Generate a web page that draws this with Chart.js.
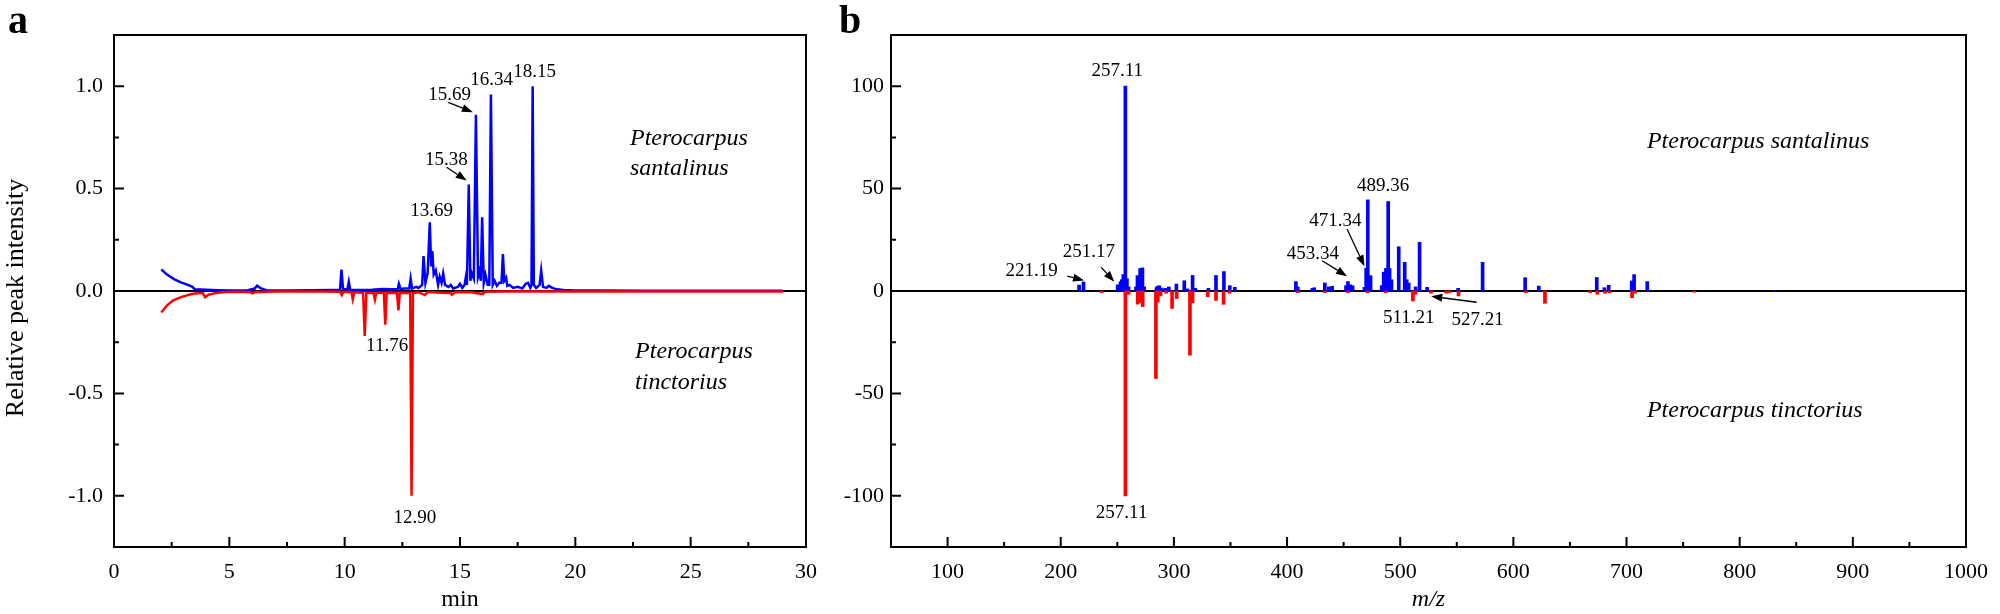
<!DOCTYPE html>
<html>
<head>
<meta charset="utf-8">
<script src="https://cdn.jsdelivr.net/npm/chart.js@4.4.1/dist/chart.umd.min.js"></script>
<style>
  html, body { margin: 0; padding: 0; background: #fff; }
  #wrap { position: relative; width: 2000px; height: 614px; }
  #chartA { position: absolute; left: 0; top: 0; }
  #chartB { position: absolute; left: 830px; top: 0; }
</style>
</head>
<body>
<div id="wrap">
  <canvas id="chartA" width="830" height="614"></canvas>
  <canvas id="chartB" width="1170" height="614"></canvas>
</div>
<script>
// ---- Panel a: chromatograms (retention time, min / relative peak intensity) ----
const santTime = [2.05, 2.3, 2.6, 2.9, 3.2, 3.4, 3.5, 4.0, 4.5, 5.0, 5.8, 6.1, 6.2, 6.35, 6.6, 7.5, 8.5, 9.5,
  9.8, 9.86, 9.93, 10.12, 10.18, 10.24, 10.6, 11.2, 11.6, 12.0, 12.3, 12.35, 12.42, 12.6, 12.8, 12.86, 12.92,
  13.1, 13.2, 13.36, 13.42, 13.5, 13.6, 13.69, 13.75, 13.8, 13.86, 13.95, 14.05, 14.12, 14.2, 14.27, 14.35,
  14.5, 14.6, 14.7, 14.9, 15.0, 15.1, 15.2, 15.25, 15.3, 15.38, 15.45, 15.5, 15.6, 15.69, 15.78, 15.85, 15.9,
  15.96, 16.03, 16.1, 16.2, 16.27, 16.34, 16.42, 16.5, 16.6, 16.7, 16.8, 16.86, 16.92, 17.0, 17.05, 17.15,
  17.3, 17.5, 17.7, 17.85, 17.95, 18.05, 18.1, 18.15, 18.2, 18.3, 18.45, 18.52, 18.6, 18.75, 18.85, 19.0,
  19.2, 19.5, 20.0, 21, 23, 25, 27, 29];
const santInt = [0.105, 0.08, 0.058, 0.042, 0.03, 0.02, 0.008, 0.006, 0.004, 0.003, 0.004, 0.012, 0.026, 0.014, 0.004, 0.003, 0.004, 0.005,
  0.006, 0.105, 0.01, 0.008, 0.045, 0.006, 0.005, 0.006, 0.01, 0.008, 0.01, 0.035, 0.01, 0.012, 0.012, 0.06, 0.012,
  0.02, 0.015, 0.03, 0.17, 0.04, 0.09, 0.335, 0.12, 0.195, 0.08, 0.1, 0.03, 0.07, 0.04, 0.085, 0.03,
  0.02, 0.03, 0.012, 0.02, 0.035, 0.015, 0.03, 0.065, 0.03, 0.52, 0.05, 0.09, 0.06, 0.86, 0.07, 0.1, 0.05,
  0.36, 0.04, 0.08, 0.03, 0.03, 0.96, 0.03, 0.05, 0.025, 0.04, 0.04, 0.18, 0.05, 0.065, 0.025, 0.03,
  0.015, 0.02, 0.012, 0.035, 0.04, 0.015, 0.03, 1.0, 0.03, 0.015, 0.03, 0.1, 0.02, 0.015, 0.025, 0.015,
  0.008, 0.005, 0.003, 0.002, 0.001, 0.001, 0.001, 0.001];
const tincTime = [2.05, 2.3, 2.55, 2.9, 3.37, 3.7, 3.85, 3.95, 4.1, 4.5, 4.9, 5.5, 5.9, 6.0, 6.1, 7, 8, 9,
  9.8, 9.88, 9.95, 10.3, 10.35, 10.42, 10.8, 10.87, 10.94, 11.25, 11.31, 11.37, 11.7, 11.76, 11.82,
  12.27, 12.33, 12.39, 12.84, 12.9, 12.96, 13.2, 13.48, 13.6, 14.2, 14.6, 14.65, 14.8, 15.5, 15.98, 16.1,
  17, 18, 20, 29];
const tincInt = [-0.105, -0.07, -0.047, -0.03, -0.015, -0.01, -0.01, -0.03, -0.018, -0.008, -0.005, -0.004, -0.006, -0.012, -0.006, -0.003, -0.003, -0.003,
  -0.004, -0.02, -0.004, -0.006, -0.04, -0.006, -0.008, -0.22, -0.008, -0.01, -0.042, -0.008, -0.008, -0.165, -0.008,
  -0.01, -0.095, -0.008, -0.01, -1.0, -0.01, -0.006, -0.02, -0.005, -0.008, -0.01, -0.018, -0.005, -0.006, -0.015, -0.004,
  -0.003, -0.003, -0.002, -0.002];
const aXTicks = [0, 5, 10, 15, 20, 25, 30];
const aYTicks = [-1.0, -0.5, 0.0, 0.5, 1.0];

// ---- Panel b: mass spectra (m/z / relative abundance) ----
const santMz = [216.2, 220.1, 250.3, 252.8, 254.0, 255.3, 257.11, 258.5, 260.0, 266.5, 267.8, 269.0, 270.2, 271.2,
  272.2, 273.7, 284.6, 285.3, 287.0, 288.5, 290.0, 292.6, 295.5, 302.2, 309.2, 312.0, 316.5, 318.9, 330.5,
  337.2, 344.2, 349.4, 353.8, 407.8, 409.5, 422.4, 424.1, 433.4, 436.9, 439.8, 452.1, 453.8, 455.9, 457.9,
  468.4, 469.9, 471.34, 473.8, 483.6, 485.4, 487.4, 489.36, 490.6, 492.3, 498.7, 504.0, 505.7, 507.5, 513.6,
  517.1, 523.8, 551.2, 572.8, 610.4, 622.4, 673.7, 680.4, 684.2, 704.6, 706.7, 718.3, 831.0];
const santAbund = [2.9, 4.4, 3.0, 4.5, 5.5, 8, 100, 6, 2, 2, 7.5, 6, 11, 8,
  11.3, 2, 1.6, 2.2, 2.6, 1.5, 1, 1.3, 2, 3.4, 5, 1, 7.6, 1.3, 1.3,
  7.6, 9.5, 2.6, 1.8, 4.6, 2, 1.3, 1.6, 3.9, 2, 2.3, 2.6, 4.6, 3, 2.6,
  1.8, 11.1, 44.5, 7.5, 2.6, 9.2, 11, 43.7, 11, 5.5, 21.6, 14, 5.5, 3.9, 2,
  23.8, 1.8, 1.3, 14, 6.5, 2.4, 6.6, 1.6, 2.8, 4.9, 8, 4.6, 0.3];
const tincMz = [236.1, 257.11, 260.0, 268.0, 270.4, 272.4, 284.1, 285.8, 288.2, 293.2, 298.4, 302.5, 314.2, 316.5,
  329.9, 337.2, 343.9, 349.2, 409.5, 433.5, 453.8, 471.2, 487.3, 511.21, 513.4, 527.21, 540.8, 543.5, 551.5,
  611.1, 627.9, 668.0, 674.3, 681.0, 685.0, 704.9, 707.6, 760.0];
const tincAbund = [-0.8, -100, -1.6, -6.4, -5.6, -7.6, -42.7, -5.4, -2.4, -1.1, -8.5, -3.7, -31.3, -5.7,
  -2.8, -4.6, -6.5, -1.1, -0.8, -0.8, -0.8, -0.8, -0.8, -4.9, -1.6, -1.1, -1.1, -0.8, -2.4,
  -0.8, -6, -0.8, -1.6, -1.1, -0.8, -3.3, -1.1, -0.6];
const bXTicks = [100, 200, 300, 400, 500, 600, 700, 800, 900, 1000];
const bYTicks = [-100, -50, 0, 50, 100];

const SERIF = "'Liberation Serif', 'Times New Roman', serif";
const BLUE = '#0000ff';
const RED = '#ff0000';

// peak labels, arrows and species names (positions in data units)
const aLabels = [
  { text: '18.15', x: 18.23, y: 1.071 },
  { text: '16.34', x: 16.37, y: 1.032 },
  { text: '15.69', x: 14.55, y: 0.959 },
  { text: '15.38', x: 14.41, y: 0.640 },
  { text: '13.69', x: 13.77, y: 0.392 },
  { text: '11.76', x: 11.84, y: -0.267 },
  { text: '12.90', x: 13.04, y: -1.110 }
];
const aArrows = [
  { from: [14.49, 0.921], to: [15.56, 0.873] },
  { from: [14.42, 0.604], to: [15.29, 0.539] }
];
const aSpecies = [
  { text: 'Pterocarpus', x: 22.37, y: 0.743 },
  { text: 'santalinus', x: 22.37, y: 0.596 },
  { text: 'Pterocarpus', x: 22.59, y: -0.298 },
  { text: 'tinctorius', x: 22.59, y: -0.449 }
];
const bLabels = [
  { text: '257.11', x: 249.9, y: 107.6 },
  { text: '489.36', x: 485.0, y: 51.4 },
  { text: '471.34', x: 442.8, y: 34.3 },
  { text: '453.34', x: 422.9, y: 18.1 },
  { text: '251.17', x: 224.8, y: 18.9 },
  { text: '221.19', x: 174.2, y: 9.8 },
  { text: '511.21', x: 507.6, y: -13.3 },
  { text: '527.21', x: 568.5, y: -14.4 },
  { text: '257.11', x: 253.8, y: -108.5 }
];
const bArrows = [
  { from: [453.0, 30.3], to: [468.4, 12.1] },
  { from: [431.1, 14.8], to: [453.0, 7.2] },
  { from: [235.7, 11.6], to: [247.4, 4.5] },
  { from: [205.7, 7.3], to: [220.6, 5.1] },
  { from: [567.6, -5.5], to: [527.4, -2.6] }
];
const bSpecies = [
  { text: 'Pterocarpus santalinus', x: 718, y: 72.8 },
  { text: 'Pterocarpus tinctorius', x: 718, y: -58.6 }
];

function drawArrow(ctx, x1, y1, x2, y2) {
  const ang = Math.atan2(y2 - y1, x2 - x1);
  const L = 11, W = 4;
  const c = Math.cos(ang), s = Math.sin(ang);
  ctx.beginPath();
  ctx.moveTo(x1, y1);
  ctx.lineTo(x2 - L * c, y2 - L * s);
  ctx.lineWidth = 1.3;
  ctx.stroke();
  ctx.beginPath();
  ctx.moveTo(x2, y2);
  ctx.lineTo(x2 - L * c + W * s, y2 - L * s - W * c);
  ctx.lineTo(x2 - L * c - W * s, y2 - L * s + W * c);
  ctx.closePath();
  ctx.fill();
}

const decor = {
  id: 'decor',
  beforeDatasetsDraw(chart) {
    const { ctx, chartArea: a, scales: { y } } = chart;
    const y0 = y.getPixelForValue(0);
    ctx.save();
    ctx.strokeStyle = '#000';
    ctx.lineWidth = 2;
    ctx.beginPath();
    ctx.moveTo(a.left, y0);
    ctx.lineTo(a.right, y0);
    ctx.stroke();
    ctx.restore();
  },
  afterDraw(chart, args, opts) {
    const { ctx, chartArea: a, scales: { x, y } } = chart;
    ctx.save();
    ctx.strokeStyle = '#000';
    ctx.fillStyle = '#000';
    ctx.lineWidth = 2;
    ctx.strokeRect(a.left, a.top, a.right - a.left, a.bottom - a.top);

    // inward major + minor ticks on bottom and left
    const xs = x.ticks.map(t => t.value);
    const ys = y.ticks.map(t => t.value);
    ctx.beginPath();
    xs.forEach((v, i) => {
      const px = x.getPixelForValue(v);
      ctx.moveTo(px, a.bottom); ctx.lineTo(px, a.bottom - 10);
      if (i < xs.length - 1) {
        const m = x.getPixelForValue((v + xs[i + 1]) / 2);
        ctx.moveTo(m, a.bottom); ctx.lineTo(m, a.bottom - 5);
      }
    });
    ys.forEach((v, i) => {
      const py = y.getPixelForValue(v);
      ctx.moveTo(a.left, py); ctx.lineTo(a.left + 10, py);
      if (i < ys.length - 1) {
        const m = y.getPixelForValue((v + ys[i + 1]) / 2);
        ctx.moveTo(a.left, m); ctx.lineTo(a.left + 5, m);
      }
    });
    ctx.stroke();

    // peak labels
    ctx.font = `19px ${SERIF}`;
    ctx.textAlign = 'center';
    ctx.textBaseline = 'middle';
    opts.labels.forEach(l => ctx.fillText(l.text, x.getPixelForValue(l.x), y.getPixelForValue(l.y)));
    opts.arrows.forEach(r => drawArrow(ctx,
      x.getPixelForValue(r.from[0]), y.getPixelForValue(r.from[1]),
      x.getPixelForValue(r.to[0]), y.getPixelForValue(r.to[1])));

    // species names
    ctx.font = `italic 24px ${SERIF}`;
    ctx.textAlign = 'left';
    opts.species.forEach(l => ctx.fillText(l.text, x.getPixelForValue(l.x), y.getPixelForValue(l.y)));

    // rotated y title
    if (opts.yTitle) {
      ctx.save();
      ctx.translate(16, 298);
      ctx.rotate(-Math.PI / 2);
      ctx.font = `26px ${SERIF}`;
      ctx.textAlign = 'center';
      ctx.textBaseline = 'middle';
      ctx.fillText(opts.yTitle, 0, 0);
      ctx.restore();
    }

    // panel letter
    ctx.font = `bold 40px ${SERIF}`;
    ctx.textAlign = 'left';
    ctx.textBaseline = 'alphabetic';
    ctx.fillText(opts.letter, opts.letterX, 33);
    ctx.restore();
  }
};

function axisX(min, max, ticks, title, italic) {
  return {
    type: 'linear', min: min, max: max, offset: false,
    afterBuildTicks: s => { s.ticks = ticks.map(v => ({ value: v })); },
    afterFit: s => { s.height = 67; },
    grid: { display: false, drawTicks: false },
    border: { display: false },
    ticks: { font: { family: SERIF, size: 22 }, color: '#000', padding: 12, maxRotation: 0, autoSkip: false,
             callback: v => String(v) },
    title: { display: true, text: title, color: '#000', padding: 0,
             font: { family: SERIF, size: 24, style: italic ? 'italic' : 'normal' } }
  };
}

function axisY(min, max, ticks, width, pad, fmt) {
  return {
    type: 'linear', min: min, max: max,
    afterBuildTicks: s => { s.ticks = ticks.map(v => ({ value: v })); },
    afterFit: s => { s.width = width; },
    grid: { display: false, drawTicks: false },
    border: { display: false },
    ticks: { font: { family: SERIF, size: 22 }, color: '#000', padding: pad, autoSkip: false, callback: fmt },
    title: { display: false }
  };
}

// Panel a
new Chart(document.getElementById('chartA'), {
  type: 'line',
  data: {
    datasets: [
      {
        label: 'Pterocarpus tinctorius',
        data: tincTime.map((t, i) => ({ x: t, y: tincInt[i] })),
        borderColor: RED, borderWidth: 2.5, pointRadius: 0, tension: 0, order: 0
      },
      {
        label: 'Pterocarpus santalinus',
        data: santTime.map((t, i) => ({ x: t, y: santInt[i] })),
        borderColor: BLUE, borderWidth: 2.5, pointRadius: 0, tension: 0, order: 1
      }
    ]
  },
  options: {
    responsive: false,
    animation: false,
    devicePixelRatio: 1,
    layout: { padding: { top: 35, right: 24, left: 0, bottom: 0 } },
    plugins: {
      legend: { display: false },
      tooltip: { enabled: false },
      decor: { labels: aLabels, arrows: aArrows, species: aSpecies, letter: 'a', letterX: 8,
               yTitle: 'Relative peak intensity' }
    },
    scales: {
      x: axisX(0, 30, aXTicks, 'min', false),
      y: axisY(-1.25, 1.25, aYTicks, 114, 11, v => v.toFixed(1))
    }
  },
  plugins: [decor]
});

// Panel b
new Chart(document.getElementById('chartB'), {
  type: 'bar',
  data: {
    datasets: [
      {
        label: 'Pterocarpus santalinus',
        data: santMz.map((m, i) => ({ x: m, y: santAbund[i] })),
        backgroundColor: BLUE, barThickness: 3, grouped: false, order: 1
      },
      {
        label: 'Pterocarpus tinctorius',
        data: tincMz.map((m, i) => ({ x: m, y: tincAbund[i] })),
        backgroundColor: RED, barThickness: 3, grouped: false, order: 0
      }
    ]
  },
  options: {
    responsive: false,
    animation: false,
    devicePixelRatio: 1,
    layout: { padding: { top: 35, right: 26, left: 0, bottom: 0 } },
    plugins: {
      legend: { display: false },
      tooltip: { enabled: false },
      decor: { labels: bLabels, arrows: bArrows, species: bSpecies, letter: 'b', letterX: 9, yTitle: null }
    },
    scales: {
      x: axisX(50, 1000, bXTicks, 'm/z', true),
      y: axisY(-125, 125, bYTicks, 61, 7, v => String(v))
    }
  },
  plugins: [decor]
});
</script>
</body>
</html>
